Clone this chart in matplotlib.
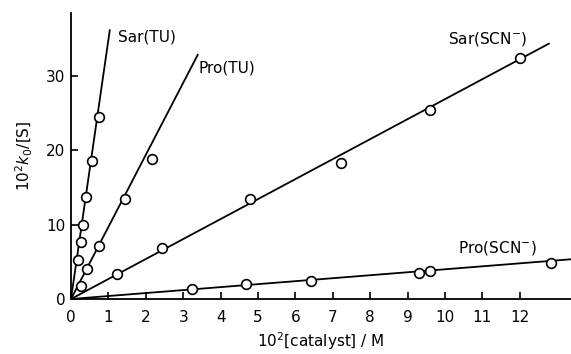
import matplotlib
matplotlib.use("Agg")
import matplotlib.pyplot as plt
import numpy as np

plt.rcParams['font.family'] = ['DejaVu Sans']

# Data (x: 10^2[catalyst]/M, y: 10^2 k0/[S])
sar_tu_x = [0.18, 0.26, 0.31, 0.40, 0.57, 0.75]
sar_tu_y = [5.2, 7.7, 9.9, 13.7, 18.6, 24.5]
pro_tu_x = [0.26, 0.44, 0.74, 1.44, 2.16]
pro_tu_y = [1.7, 4.0, 7.1, 13.4, 18.9]
sar_scn_x = [1.24, 2.44, 4.79, 7.21, 9.60, 12.00]
sar_scn_y = [3.3, 6.9, 13.5, 18.3, 25.5, 32.5]
pro_scn_x = [3.24, 4.68, 6.41, 9.30, 9.60, 12.83]
pro_scn_y = [1.4, 2.0, 2.4, 3.5, 3.8, 4.8]

# Fitted straight lines through the origin (slope, end x)
series_names = ["Sar(TU)", "Pro(TU)", "Sar(SCN$^{-}$)", "Pro(SCN$^{-}$)"]
line_slopes = [34.9, 9.7, 2.69, 0.40]
line_end_x = [1.04, 3.40, 12.8, 13.4]

x_ticks = list(range(0, 13))
y_ticks = [0, 10, 20, 30]

fig = plt.figure(figsize=(5.71, 3.54), dpi=100)
ax = fig.add_axes([71/571, 55/354, 1 - 71/571, (299 - 13)/354])
ax.set_xlim(0, 13.37)
ax.set_ylim(0, 38.5)

for sl, xe in zip(line_slopes, line_end_x):
    xs = np.array([0, xe])
    ax.plot(xs, sl * xs, color='black', lw=1.3, solid_capstyle='butt', clip_on=False)

for xs, ys in [(sar_tu_x, sar_tu_y), (pro_tu_x, pro_tu_y),
               (sar_scn_x, sar_scn_y), (pro_scn_x, pro_scn_y)]:
    ax.plot(xs, ys, linestyle='none', marker='o', markersize=7,
            markerfacecolor='white', markeredgecolor='black', markeredgewidth=1.2,
            clip_on=False, zorder=3)

label_pos = [(1.26, 35.3), (3.42, 31.1), (10.08, 35.0), (10.35, 6.9)]
for name, (lx, ly) in zip(series_names, label_pos):
    ax.text(lx, ly, name, fontsize=11, ha='left', va='center')

ax.spines['top'].set_visible(False)
ax.spines['right'].set_visible(False)
ax.spines['left'].set_linewidth(1.3)
ax.spines['bottom'].set_linewidth(1.3)
ax.set_xticks(x_ticks)
ax.set_xticklabels([str(t) for t in x_ticks])
ax.set_yticks(y_ticks)
ax.set_yticklabels([str(t) for t in y_ticks])
ax.tick_params(axis='x', direction='in', length=5, width=1.2, pad=8, labelsize=11)
ax.tick_params(axis='y', direction='in', length=5, width=1.2, pad=4, labelsize=11)

ax.set_xlabel(r"10$^{2}$[catalyst] / M", fontsize=11, labelpad=4)
ax.set_ylabel(r"10$^{2}$$k_{0}$/[S]", fontsize=11, labelpad=8)

fig.savefig("out.png", dpi=100)
